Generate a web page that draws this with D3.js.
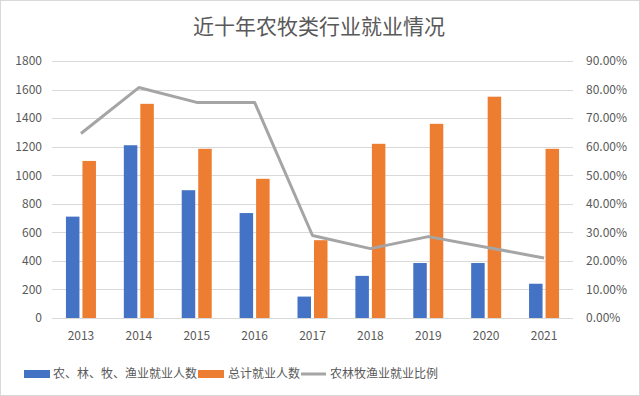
<!DOCTYPE html>
<html><head><meta charset="utf-8">
<script src="https://cdn.jsdelivr.net/npm/d3@7"></script>
<style>body{margin:0;background:#fff}svg{display:block}text{font-family:"Noto Sans CJK SC","Noto Sans",sans-serif}</style>
</head><body><svg id="c" width="640" height="396"></svg>
<script>
const years = ["2013","2014","2015","2016","2017","2018","2019","2020","2021"];
const agriWorkers = [710,1210,895,735,150,295,385,385,240];
const totalWorkers = [1100,1500,1185,975,545,1220,1360,1550,1185];
const agriRatio = [0.646,0.807,0.755,0.755,0.289,0.243,0.285,0.248,0.21];
const leftTicks = [0,200,400,600,800,1000,1200,1400,1600,1800];
const rightTicks = [0,0.1,0.2,0.3,0.4,0.5,0.6,0.7,0.8,0.9];
const title = "近十年农牧类行业就业情况";
const legendNames = ["农、林、牧、渔业就业人数","总计就业人数","农林牧渔业就业比例"];

const svg = d3.select("#c");
const W=640,H=396;
const m={l:52,r:573,t:61,b:318};
svg.append("rect").attr("x",0.5).attr("y",0.5).attr("width",W-1).attr("height",H-1).attr("fill","#fff").attr("stroke","#d9d9d9");

const x = d3.scaleBand().domain(years).range([m.l,m.r]);
const y = d3.scaleLinear().domain([0,1800]).range([m.b,m.t]);
const y2 = d3.scaleLinear().domain([0,0.9]).range([m.b,m.t]);

svg.append("g").selectAll("line").data(leftTicks).join("line")
  .attr("x1",m.l).attr("x2",m.r).attr("y1",d=>Math.round(y(d))+0.5).attr("y2",d=>Math.round(y(d))+0.5)
  .attr("stroke","#d9d9d9").attr("stroke-width",1);

const ga = svg.append("g").attr("transform",`translate(${m.l-10},0)`)
  .call(d3.axisLeft(y).tickValues(leftTicks).tickSize(0).tickPadding(0).tickFormat(d=>String(d)));
ga.select(".domain").remove();
ga.selectAll("text").attr("fill","#595959").style("font-size","12px");

const gr = svg.append("g").attr("transform",`translate(${m.r+13},0)`)
  .call(d3.axisRight(y2).tickValues(rightTicks).tickSize(0).tickPadding(0).tickFormat(d=>(d*100).toFixed(2)+"%"));
gr.select(".domain").remove();
gr.selectAll("text").attr("fill","#595959").style("font-size","12px");

const gx = svg.append("g").attr("transform",`translate(0,${m.b+13})`)
  .call(d3.axisBottom(x).tickSize(0).tickPadding(0));
gx.select(".domain").remove();
gx.selectAll("text").attr("fill","#595959").style("font-size","12px");

const bw = 13.5;
const cx = d=>x(d)+x.bandwidth()/2;
svg.append("g").selectAll("rect").data(years).join("rect")
  .attr("x",(d)=>cx(d)-bw-1.5).attr("width",bw)
  .attr("y",(d,i)=>y(agriWorkers[i])).attr("height",(d,i)=>y(0)-y(agriWorkers[i]))
  .attr("fill","#4472c4");
svg.append("g").selectAll("rect").data(years).join("rect")
  .attr("x",(d)=>cx(d)+1.5).attr("width",bw)
  .attr("y",(d,i)=>y(totalWorkers[i])).attr("height",(d,i)=>y(0)-y(totalWorkers[i]))
  .attr("fill","#ed7d31");

const line = d3.line().x((d,i)=>cx(years[i])).y(d=>y2(d));
svg.append("path").datum(agriRatio).attr("d",line).attr("fill","none")
  .attr("stroke","#a5a5a5").attr("stroke-width",3).attr("stroke-linejoin","round");

svg.append("text").attr("x",319).attr("y",34).attr("text-anchor","middle")
  .attr("fill","#595959").style("font-size","21px").text(title);

const ly = 374;
const lg = svg.append("g");
lg.append("rect").attr("x",24).attr("y",ly-4).attr("width",26).attr("height",8).attr("fill","#4472c4");
lg.append("text").attr("x",53).attr("y",ly+4).attr("fill","#595959").style("font-size","12px").text(legendNames[0]);
lg.append("rect").attr("x",198).attr("y",ly-4).attr("width",26).attr("height",8).attr("fill","#ed7d31");
lg.append("text").attr("x",228).attr("y",ly+4).attr("fill","#595959").style("font-size","12px").text(legendNames[1]);
lg.append("line").attr("x1",301).attr("x2",326).attr("y1",ly).attr("y2",ly).attr("stroke","#a5a5a5").attr("stroke-width",3);
lg.append("text").attr("x",330).attr("y",ly+4).attr("fill","#595959").style("font-size","12px").text(legendNames[2]);
</script></body></html>
